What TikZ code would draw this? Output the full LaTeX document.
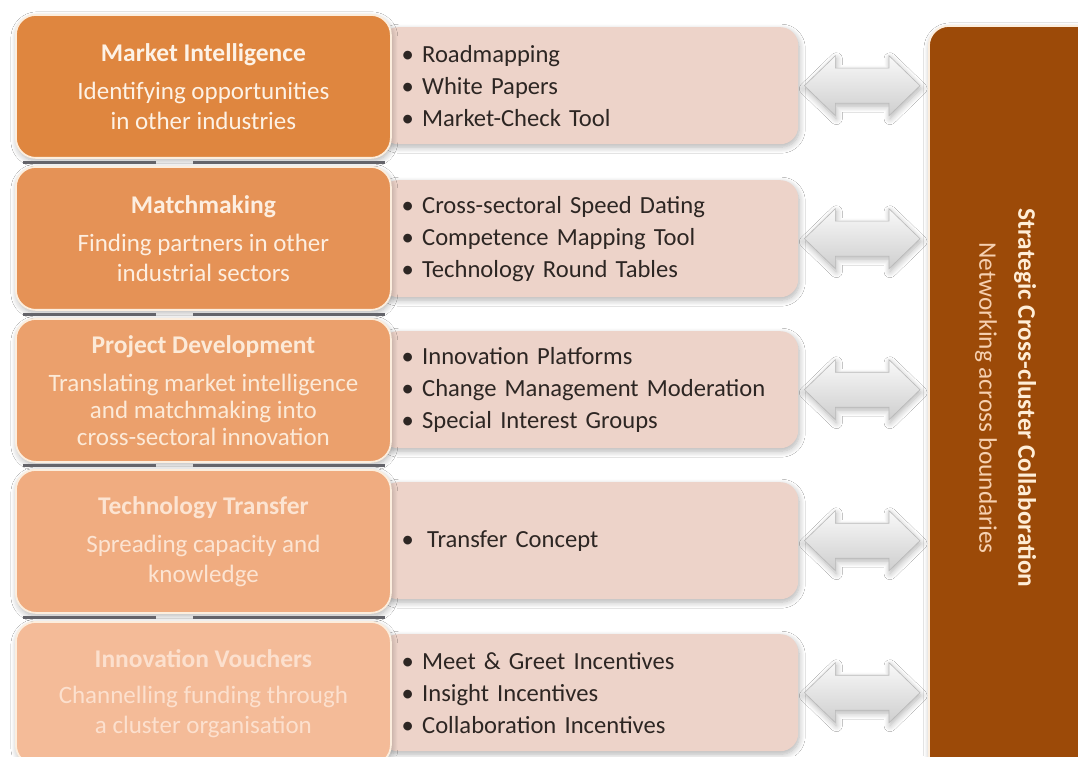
\documentclass[tikz,border=0pt]{standalone}
\usepackage{fontspec}
\setmainfont{Carlito}
\usetikzlibrary{calc,shadows.blur}

% stage colours, from strong to pale
\definecolor{orA}{RGB}{223,134,63}
\definecolor{orB}{RGB}{229,146,86}
\definecolor{orC}{RGB}{235,160,108}
\definecolor{orD}{RGB}{240,172,128}
\definecolor{orE}{RGB}{244,187,152}
\definecolor{txA}{RGB}{253,242,230}
\definecolor{txB}{RGB}{253,238,224}
\definecolor{txC}{RGB}{252,234,216}
\definecolor{txD}{RGB}{252,228,210}
\definecolor{txE}{RGB}{252,224,206}
\definecolor{rim}{RGB}{252,238,222}
\definecolor{pinkfill}{RGB}{237,211,201}
\definecolor{bulletink}{RGB}{45,38,35}
\definecolor{clusterbrown}{RGB}{156,74,8}
\definecolor{clusterhead}{RGB}{255,238,215}
\definecolor{clustersub}{RGB}{246,208,176}
\definecolor{barcol}{RGB}{100,100,106}

\newcommand{\stagehead}[1]{{\fontsize{25.5}{30}\selectfont\bfseries #1}}

\tikzset{
  softshadow/.style={blur shadow={shadow xshift=1pt, shadow yshift=-3pt,
      shadow blur radius=6pt, shadow blur steps=8, shadow opacity=30}},
  stagebox/.style={rounded corners=20pt, draw=rim, line width=1.8pt,
      minimum width=375pt, minimum height=143pt, anchor=north west,
      inner sep=0pt, align=center, font=\fontsize{25}{29.5}\selectfont, softshadow},
  toolbox/.style={rounded corners=18pt, fill=pinkfill, minimum width=418pt,
      minimum height=117pt, text width=375pt, inner xsep=21.5pt, inner ysep=0pt,
      anchor=north west, align=left, text=bulletink,
      font=\fontsize{24.6}{32}\selectfont, softshadow},
  linkarrow/.style={top color=gray!5, bottom color=gray!38, draw=gray!55,
      line width=0.6pt, softshadow},
  joinbar/.style={draw=barcol, line width=3pt},
}

\begin{document}
\begin{tikzpicture}[x=1pt,y=1pt]
\useasboundingbox (0,0) rectangle (1078,756);
\fill[white] (0,0) rectangle (1078,756);

% tool lists
\node[toolbox] (p1) at (380,729) {• Roadmapping\\• White Papers\\• Market-Check Tool};
\node[toolbox] (p2) at (380,576) {• Cross-sectoral Speed Dating\\• Competence Mapping Tool\\• Technology Round Tables};
\node[toolbox] (p3) at (380,425) {• Innovation Platforms\\• Change Management Moderation\\• Special Interest Groups};
\node[toolbox] (p4) at (380,274) {• \hspace{0.2em}Transfer Concept};
\node[toolbox] (p5) at (380,122) {• Meet \& Greet Incentives\\• Insight Incentives\\• Collaboration Incentives};

% cross-cluster column
\node[anchor=north west, minimum width=180pt, minimum height=790pt,
      rounded corners=20pt, fill=clusterbrown, draw=rim, line width=1.8pt,
      softshadow] (cc) at (928,731) {};
\node[rotate=-90, text=clusterhead, font=\bfseries\fontsize{25.3}{30}\selectfont]
      (cchead) at (1025,358) {Strategic Cross-cluster Collaboration};
\node[rotate=-90, text=clustersub, font=\fontsize{25.3}{30}\selectfont]
      (ccsub) at (986,358) {Networking across boundaries};

% two-way links between each tool list and the column
\foreach \tl in {p1,p2,p3,p4,p5}{
  \coordinate (la) at ($(\tl.east)+(6pt,0)$);
  \coordinate (lb) at ($(cc.west |- \tl.east)+(-8pt,0)$);
  \path[linkarrow] let \p1=(la), \p2=(lb) in
    (\x1,\y1) -- (\x1+31pt,\y1+30pt) -- (\x1+31pt,\y1+17.5pt) -- (\x2-31pt,\y1+17.5pt)
    -- (\x2-31pt,\y1+30pt) -- (\x2,\y1) -- (\x2-31pt,\y1-30pt) -- (\x2-31pt,\y1-17.5pt)
    -- (\x1+31pt,\y1-17.5pt) -- (\x1+31pt,\y1-30pt) -- cycle;
}

% stages
\node[stagebox, fill=orA, text=txA] (o1) at (15,742)
  {\stagehead{Market Intelligence}\\[9pt]Identifying opportunities\\in other industries};
\node[stagebox, fill=orB, text=txB] (o2) at (15,590)
  {\stagehead{Matchmaking}\\[9pt]Finding partners in other\\industrial sectors};
\node[stagebox, fill=orC, text=txC, font=\fontsize{25}{27}\selectfont] (o3) at (15,438)
  {\stagehead{Project Development}\\[11pt]Translating market intelligence\\and matchmaking into\\cross-sectoral innovation};
\node[stagebox, fill=orD, text=txD] (o4) at (15,287)
  {\stagehead{Technology Transfer}\\[9pt]Spreading capacity and\\knowledge};
\node[stagebox, fill=orE, text=txE] (o5) at (15,135)
  {\stagehead{Innovation Vouchers}\\[7pt]Channelling funding through\\a cluster organisation};

% joints between consecutive stages
\foreach \a/\b in {o1/o2,o2/o3,o3/o4,o4/o5}{
  \coordinate (j) at ($(\a.south)!0.5!(\b.north)$);
  \draw[joinbar] ([xshift=-180pt]j) -- ([xshift=-47pt]j);
  \draw[joinbar] ([xshift=-10pt]j) -- ([xshift=182pt]j);
}
\end{tikzpicture}
\end{document}
